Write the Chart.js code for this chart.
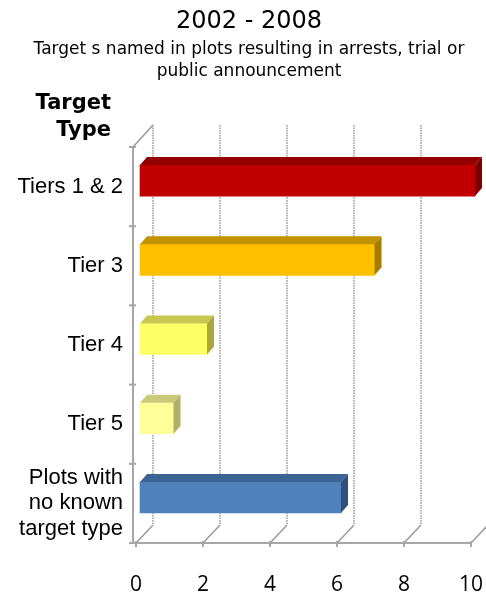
<!DOCTYPE html>
<html>
<head>
<meta charset="utf-8">
<script src="https://cdn.jsdelivr.net/npm/chart.js@4.4.1/dist/chart.umd.min.js"></script>
<style>
  html, body { margin: 0; padding: 0; background: #ffffff; }
  #wrap { width: 486px; height: 595px; }
</style>
</head>
<body>
<div id="wrap"><canvas id="chart" width="486" height="595"></canvas></div>
<script>
// Plot targets by tier, 2002 - 2008
const categories = ['Tiers 1 & 2', 'Tier 3', 'Tier 4', 'Tier 5', ['Plots with', 'no known', 'target type']];
const targetCounts = [10, 7, 2, 1, 6];
const xTickValues = [0, 2, 4, 6, 8, 10];

const chartTitle = '2002 - 2008';
const chartSubtitle = ['Target s named in plots resulting in arrests, trial or', 'public announcement'];
const axisTitle = ['Target', 'Type'];

// face colours for each bar: front, top, right side
const frontColors = ['#C00000', '#FFC000', '#FFFF66', '#FFFF99', '#4F81BD'];
const topColors   = ['#940000', '#C29200', '#C8C850', '#CACA7A', '#3C6494'];
const sideColors  = ['#7A0000', '#A67C00', '#A8A83E', '#B0B068', '#2F5078'];

const GRID = '#9a9a9a';
const AXIS = '#a6a6a6';
const WALL_DX = 17, WALL_DY = 18;   // depth of the back wall
const BAR_DX = 4, BAR_DY = -6;      // bars sit a little into the box
const FACE_DX = 7, FACE_DY = -8;    // bar depth

const box3d = {
  id: 'box3d',
  beforeDraw(chart) {
    const ctx = chart.ctx;
    ctx.save();
    ctx.fillStyle = '#000';
    ctx.textAlign = 'center';
    ctx.textBaseline = 'middle';
    ctx.font = '24px "DejaVu Sans"';
    ctx.fillText(chartTitle, 249, 22);
    ctx.font = '17px "DejaVu Sans"';
    ctx.fillText(chartSubtitle[0], 249, 50);
    ctx.fillText(chartSubtitle[1], 249, 72);
    ctx.font = 'bold 21px "DejaVu Sans"';
    ctx.textAlign = 'right';
    ctx.fillText(axisTitle[0], 111, 104);
    ctx.fillText(axisTitle[1], 111, 131);
    ctx.restore();
  },
  beforeDatasetsDraw(chart) {
    const ctx = chart.ctx;
    const ca = chart.chartArea;
    const xs = chart.scales.x;
    const axisX = ca.left - 3;
    ctx.save();
    // back wall gridlines and floor diagonals
    ctx.strokeStyle = GRID;
    ctx.lineWidth = 1.5;
    xTickValues.forEach(v => {
      const px = xs.getPixelForValue(v);
      ctx.setLineDash([1.5, 1]);
      ctx.beginPath();
      ctx.moveTo(px + WALL_DX, ca.top - 22);
      ctx.lineTo(px + WALL_DX, ca.bottom - WALL_DY);
      ctx.stroke();
      ctx.setLineDash([]);
      ctx.beginPath();
      ctx.moveTo(px, ca.bottom);
      ctx.lineTo(px + WALL_DX, ca.bottom - WALL_DY);
      ctx.stroke();
    });
    // top-left edge of the box
    ctx.beginPath();
    ctx.moveTo(axisX, ca.top);
    ctx.lineTo(xs.getPixelForValue(0) + WALL_DX, ca.top - 22);
    ctx.stroke();
    // front axes
    ctx.strokeStyle = AXIS;
    ctx.lineWidth = 2;
    ctx.beginPath();
    ctx.moveTo(axisX, ca.top);
    ctx.lineTo(axisX, ca.bottom);
    ctx.lineTo(ca.right, ca.bottom);
    ctx.stroke();
    const n = categories.length;
    for (let i = 0; i <= n; i++) {
      const y = ca.top + (ca.bottom - ca.top) * i / n;
      ctx.beginPath();
      ctx.moveTo(axisX - 4, y);
      ctx.lineTo(axisX + 3, y);
      ctx.stroke();
    }
    xTickValues.forEach(v => {
      const px = xs.getPixelForValue(v);
      ctx.beginPath();
      ctx.moveTo(px, ca.bottom - 2);
      ctx.lineTo(px, ca.bottom + 4);
      ctx.stroke();
    });
    ctx.restore();
    // bars are drawn slightly inside the box
    ctx.save();
    ctx.translate(BAR_DX, BAR_DY);
  },
  afterDatasetsDraw(chart) {
    const ctx = chart.ctx;
    const meta = chart.getDatasetMeta(0);
    meta.data.forEach((bar, i) => {
      const p = bar.getProps(['x', 'y', 'base', 'height'], true);
      const left = Math.min(p.base, p.x), right = Math.max(p.base, p.x);
      const top = p.y - p.height / 2, bottom = p.y + p.height / 2;
      // top face
      ctx.fillStyle = topColors[i];
      ctx.beginPath();
      ctx.moveTo(left, top);
      ctx.lineTo(left + FACE_DX, top + FACE_DY);
      ctx.lineTo(right + FACE_DX, top + FACE_DY);
      ctx.lineTo(right, top);
      ctx.closePath();
      ctx.fill();
      // right face
      ctx.fillStyle = sideColors[i];
      ctx.beginPath();
      ctx.moveTo(right, top);
      ctx.lineTo(right + FACE_DX, top + FACE_DY);
      ctx.lineTo(right + FACE_DX, bottom + FACE_DY);
      ctx.lineTo(right, bottom);
      ctx.closePath();
      ctx.fill();
    });
    ctx.restore();
  }
};

new Chart(document.getElementById('chart'), {
  type: 'bar',
  data: {
    labels: categories,
    datasets: [{
      data: targetCounts,
      backgroundColor: frontColors,
      borderWidth: 0,
      barThickness: 31,
      clip: false
    }]
  },
  options: {
    indexAxis: 'y',
    responsive: false,
    animation: false,
    devicePixelRatio: 1,
    layout: { padding: { top: 147, right: 15, left: 0, bottom: 0 } },
    plugins: { legend: { display: false }, tooltip: { enabled: false }, title: { display: false } },
    scales: {
      x: {
        min: 0, max: 10,
        afterBuildTicks(scale) { scale.ticks = xTickValues.map(v => ({ value: v })); },
        ticks: { color: '#000', font: { family: '"Open Sans"', size: 21 }, padding: 29, maxRotation: 0, autoSkip: false },
        grid: { display: false, drawTicks: false },
        border: { display: false },
        afterFit(scale) { scale.height = 52; scale.paddingLeft = 0; scale.paddingRight = 0; }
      },
      y: {
        ticks: { color: '#000', font: { family: '"Liberation Sans"', size: 22, lineHeight: 1.17 }, padding: 13, autoSkip: false },
        grid: { display: false, drawTicks: false },
        border: { display: false },
        afterFit(scale) { scale.width = 136; scale.paddingTop = 0; scale.paddingBottom = 0; }
      }
    }
  },
  plugins: [box3d]
});
</script>
</body>
</html>
